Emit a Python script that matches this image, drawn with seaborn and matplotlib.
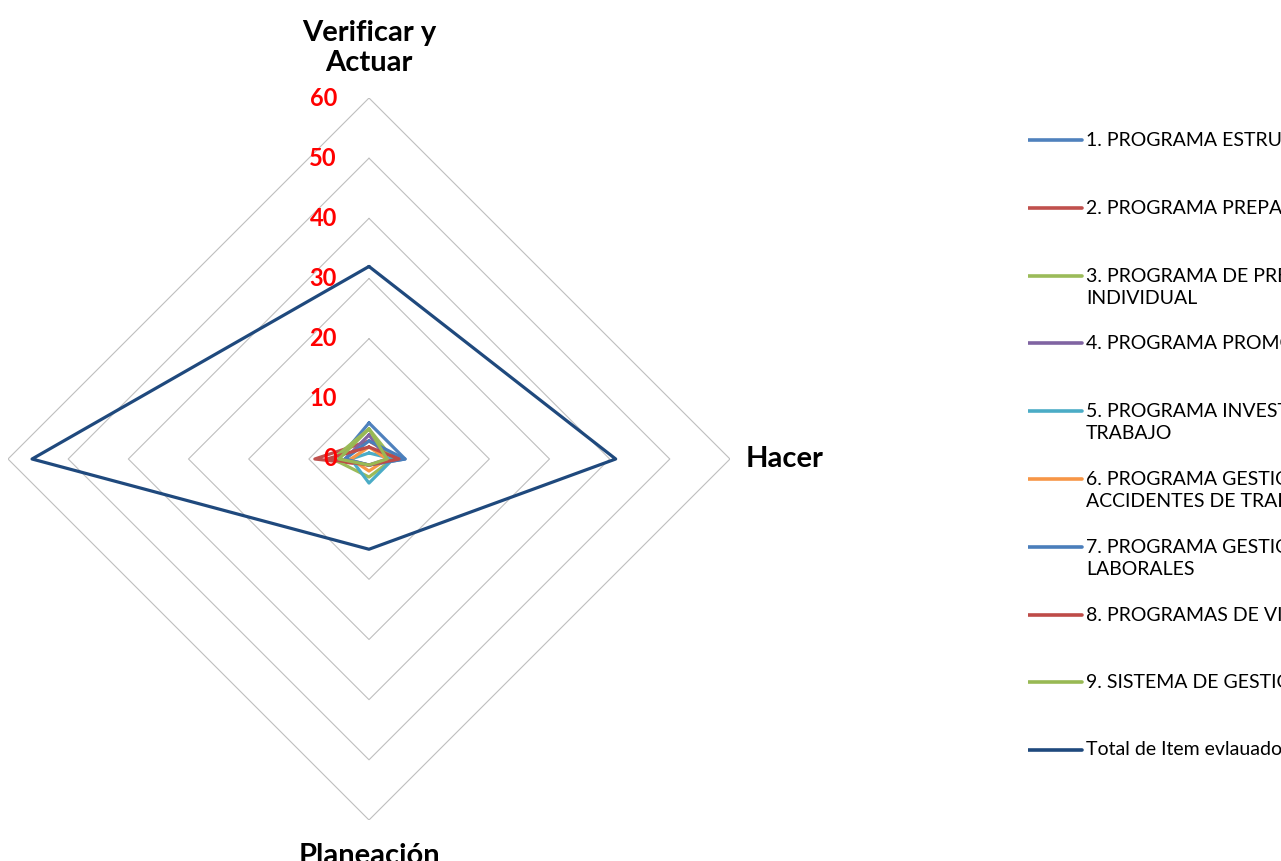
import numpy as np
import pandas as pd
import matplotlib
matplotlib.use("Agg")
import matplotlib.pyplot as plt
import matplotlib.transforms as mtransforms
import seaborn as sns

# categories (clockwise from the top)
categorias = ["Verificar y Actuar", "Hacer", "Planeación", ""]

series = [
    "1. PROGRAMA ESTRUCTURA DEL SISTEMA DE GESTIÓN",
    "2. PROGRAMA PREPARACIÓN Y RESPUESTA ANTE EMERGENCIAS",
    "3. PROGRAMA DE PREVENCIÓN Y PROTECCIÓN\nINDIVIDUAL",
    "4. PROGRAMA PROMOCIÓN Y PREVENCIÓN EN SALUD",
    "5. PROGRAMA INVESTIGACIÓN DE ACCIDENTES DE\nTRABAJO",
    "6. PROGRAMA GESTIÓN DE INCIDENTES Y\nACCIDENTES DE TRABAJO",
    "7. PROGRAMA GESTIÓN DE RIESGOS\nLABORALES",
    "8. PROGRAMAS DE VIGILANCIA EPIDEMIOLÓGICA",
    "9. SISTEMA DE GESTIÓN DE SEGURIDAD Y SALUD EN EL TRABAJO",
    "Total de Item evlauados",
]

# values per series, same order as categorias
valores = [
    [6, 6, 1, 5],
    [3, 5, 1, 9],
    [5, 4, 3, 6],
    [4, 3, 1, 4],
    [1, 4, 4, 3],
    [2, 3, 2, 3],
    [3, 6, 1, 4],
    [2, 5, 1, 7],
    [5, 3, 1, 5],
    [32, 41, 15, 56],
]

colores = ["#4F81BD", "#C0504D", "#9BBB59", "#8064A2", "#4BACC6",
           "#F79646", "#4A7EBB", "#BE4B48", "#98B954", "#1F497D"]

escala = [0, 10, 20, 30, 40, 50, 60]

sns.set_theme(style="white")
plt.rcParams["font.family"] = ["Lato", "DejaVu Sans"]

# long-form table, polygon closed by repeating the first category
angulos = np.linspace(0, 2 * np.pi, len(categorias), endpoint=False)
filas = []
for nombre, vals in zip(series, valores):
    for k in range(len(categorias) + 1):
        filas.append({"serie": nombre,
                      "theta": k * 2 * np.pi / len(categorias),
                      "valor": vals[k % len(categorias)]})
df = pd.DataFrame(filas)

fig = plt.figure(figsize=(12.81, 8.61), dpi=100)
W, H = 1281, 861
cx, cy, rad = 369, 459, 361
ax = fig.add_axes([(cx - rad) / W, (H - cy - rad) / H, 2 * rad / W, 2 * rad / H],
                  projection="polar")
ax.set_theta_offset(np.pi / 2)
ax.set_theta_direction(-1)
ax.set_ylim(0, escala[-1])
ax.grid(False)
ax.set_xticks([])
ax.set_yticks([])
ax.spines["polar"].set_visible(False)
ax.set_facecolor("none")

# straight-edged gridlines
theta_c = np.append(angulos, 2 * np.pi)
for r in escala[1:]:
    ax.plot(theta_c, [r] * len(theta_c), color="#BFBFBF", lw=0.8, zorder=1)

sns.lineplot(data=df, x="theta", y="valor", hue="serie", hue_order=series,
             palette=colores, sort=False, legend=False, lw=2.3,
             estimator=None, ax=ax, zorder=3)
ax.set_xlabel("")
ax.set_ylabel("")

# red value labels along the top axis
off_lbl = mtransforms.ScaledTranslation(-32 / 100, 0, fig.dpi_scale_trans)
for r in escala:
    ax.text(0, r, str(r), color="red", fontsize=17, fontweight="bold",
            ha="right", va="center", transform=ax.transData + off_lbl,
            zorder=5, clip_on=False)

# category labels
offsets = [(0, 22, "center", "bottom"), (16, 0, "left", "center"),
           (0, -23, "center", "top"), (-16, 0, "right", "center")]
for ang, cat, (dx, dy, ha, va) in zip(angulos, categorias, offsets):
    if not cat:
        continue
    tr = ax.transData + mtransforms.ScaledTranslation(dx / 100, dy / 100, fig.dpi_scale_trans)
    texto = cat.replace("Verificar y ", "Verificar y\n")
    ax.text(ang, escala[-1], texto, fontsize=21, fontweight="bold", color="black",
            ha=ha, va=va, transform=tr, multialignment="center",
            linespacing=1.2, clip_on=False)

# legend on the right
lx0 = 1028
axl = fig.add_axes([lx0 / W, 0, (W - lx0) / W, 1])
axl.set_xlim(0, W - lx0)
axl.set_ylim(H, 0)
axl.axis("off")
for i, (nombre, col) in enumerate(zip(series, colores)):
    y = 140 + i * 67.8
    axl.plot([0, 54], [y, y], color=col, lw=2.6, solid_capstyle="round")
    axl.text(58, y - 9, nombre, fontsize=14, va="top", ha="left",
             linespacing=1.35, color="black")

fig.savefig("out.png", dpi=100, facecolor="white")
